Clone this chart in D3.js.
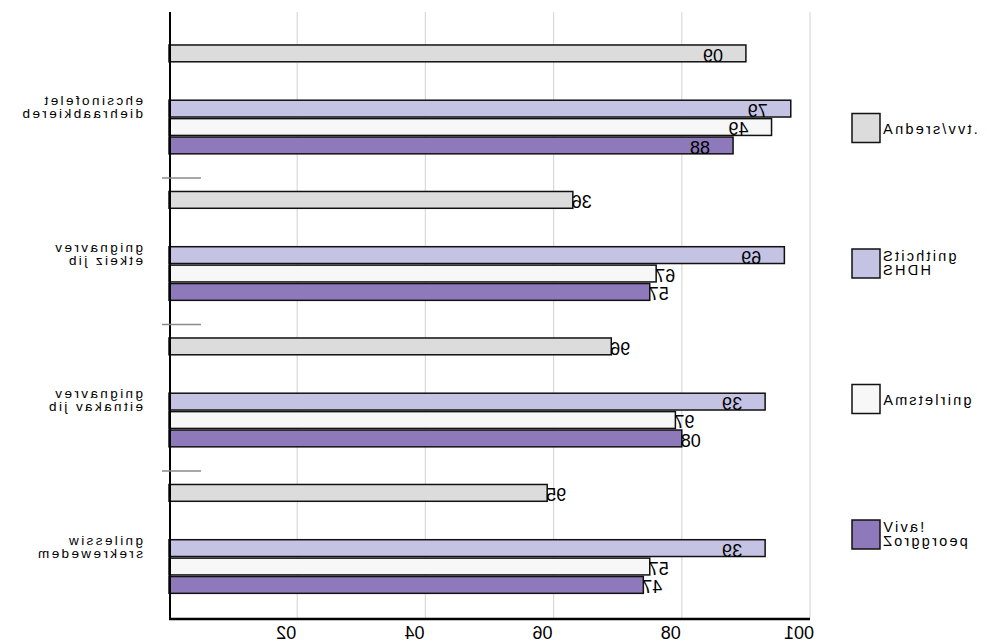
<!DOCTYPE html>
<html>
<head>
<meta charset="utf-8">
<script src="https://cdn.jsdelivr.net/npm/d3@7"></script>
<style>
  html, body { margin: 0; padding: 0; background: #ffffff; }
  svg { display: block; }
</style>
</head>
<body>
<svg id="chart" width="987" height="642"></svg>
<script>
// ---- data ----
const categories = ["telefonische bereikbaarheid", "vervanging bij ziekte", "vervanging bij vakantie", "wisseling medewerkers"];
const categoryLines = [["telefonische", "bereikbaarheid"], ["vervanging", "bij ziekte"], ["vervanging", "bij vakantie"], ["wisseling", "medewerkers"]];
const seriesNames = ["Anders/vvt.", "Stichting SHDH", "Amstelring", "Viva! Zorggroep"];
const legendLines = [["Anders/vvt."], ["Stichting", "SHDH"], ["Amstelring"], ["Viva!", "Zorggroep"]];
const andersValues = [90, 63, 69, 59];
const shdhValues = [97, 96, 93, 93];
const amstelringValues = [94, 76, 79, 75];
const vivaValues = [88, 75, 80, 74];
const xTicks = [20, 40, 60, 80, 100];

const seriesValues = [andersValues, shdhValues, amstelringValues, vivaValues];
const colors = ["#dcdcdc", "#c4c3e3", "#f7f7f7", "#8e7abb"];

// ---- layout ----
const svg = d3.select("#chart");
const plotTop = 12, plotBottom = 619;
const x = d3.scaleLinear().domain([0, 100]).range([169, 810]);
const y = d3.scaleBand().domain(categories).range([31.5, 617.5]);
const bw = y.bandwidth();
const slotKeys = [seriesNames[0], "_gap1", "_gap2", seriesNames[1], seriesNames[2], seriesNames[3]];
const sub = d3.scaleBand().domain(slotKeys).range([bw * 0.092, bw * 0.846]);
const barH = sub.bandwidth() - 1.6;

const numFont = "'Liberation Sans', Arial, sans-serif";

// mirrored text helper: each glyph drawn mirrored, reading order kept
function mtext(parent, str, o) {
  const g = parent.append("g");
  const t = g.append("text").text(str)
    .attr("x", 0).attr("y", 0)
    .attr("text-anchor", "middle")
    .style("font-family", o.family || numFont)
    .style("font-size", o.size + "px")
    .style("letter-spacing", (o.spacing || 0) + "px")
    .style("direction", "rtl")
    .style("unicode-bidi", "bidi-override")
    .attr("fill", o.fill || "#000");
  const w = t.node().getComputedTextLength();
  let cx = o.x;
  if (o.anchor === "start") cx = o.x + w / 2;
  else if (o.anchor === "end") cx = o.x - w / 2;
  g.attr("transform", `translate(${cx},${o.y}) scale(-1,1)`);
  return g;
}

// gridlines
svg.append("g").selectAll("line").data(xTicks).join("line")
  .attr("x1", d => x(d)).attr("x2", d => x(d))
  .attr("y1", plotTop).attr("y2", plotBottom)
  .attr("stroke", "#d9d9d9").attr("stroke-width", 1.2);

// bars
const groups = svg.append("g").selectAll("g").data(categories).join("g")
  .attr("transform", d => `translate(0,${y(d)})`);

seriesNames.forEach((name, si) => {
  groups.append("rect")
    .attr("x", x(0))
    .attr("y", sub(name))
    .attr("width", (d, ci) => x(seriesValues[si][ci]) - x(0))
    .attr("height", barH)
    .attr("fill", colors[si])
    .attr("stroke", "#111")
    .attr("stroke-width", 1.5);
});

// value labels
seriesNames.forEach((name, si) => {
  categories.forEach((cat, ci) => {
    const v = seriesValues[si][ci];
    const inside = v > 85;
    mtext(svg, String(v), {
      x: inside ? x(v) - 23 : x(v) - 1,
      y: y(cat) + sub(name) + barH,
      anchor: inside ? "end" : "start",
      size: 18
    });
  });
});

// y axis line + separators
svg.append("line")
  .attr("x1", 170).attr("x2", 170).attr("y1", plotTop).attr("y2", plotBottom + 1)
  .attr("stroke", "#000").attr("stroke-width", 2);
svg.append("g").selectAll("line").data(categories.slice(1)).join("line")
  .attr("x1", 162).attr("x2", 201)
  .attr("y1", d => y(d)).attr("y2", d => y(d))
  .attr("stroke", "#8a8a8a").attr("stroke-width", 1.5);

// x axis line
svg.append("line")
  .attr("x1", 169).attr("x2", 810).attr("y1", plotBottom).attr("y2", plotBottom)
  .attr("stroke", "#000").attr("stroke-width", 2.5);

// x tick labels
xTicks.forEach(t => {
  mtext(svg, String(t), { x: x(t) - 11, y: 639, anchor: "middle", size: 18 });
});

// category labels
categories.forEach((cat, ci) => {
  const c = y(cat) + bw / 2;
  categoryLines[ci].forEach((ln, li) => {
    mtext(svg, ln, { x: 143, y: c + 0.5 + li * 13, anchor: "end", size: 13.5, spacing: 2.4 });
  });
});

// legend
const legY = d3.scalePoint().domain(seriesNames).range([128, 534.5]);
seriesNames.forEach((name, si) => {
  const cy = legY(name);
  svg.append("rect")
    .attr("x", 852).attr("y", cy - 14.5)
    .attr("width", 28).attr("height", 29)
    .attr("fill", colors[si]).attr("stroke", "#111").attr("stroke-width", 1.5);
  const lines = legendLines[si];
  lines.forEach((ln, li) => {
    const by = lines.length === 1 ? cy + 5.5 : cy - 2.5 + li * 13.5;
    mtext(svg, ln, { x: 881, y: by, anchor: "start", size: 14.5, spacing: 2.2 });
  });
});
</script>
</body>
</html>
